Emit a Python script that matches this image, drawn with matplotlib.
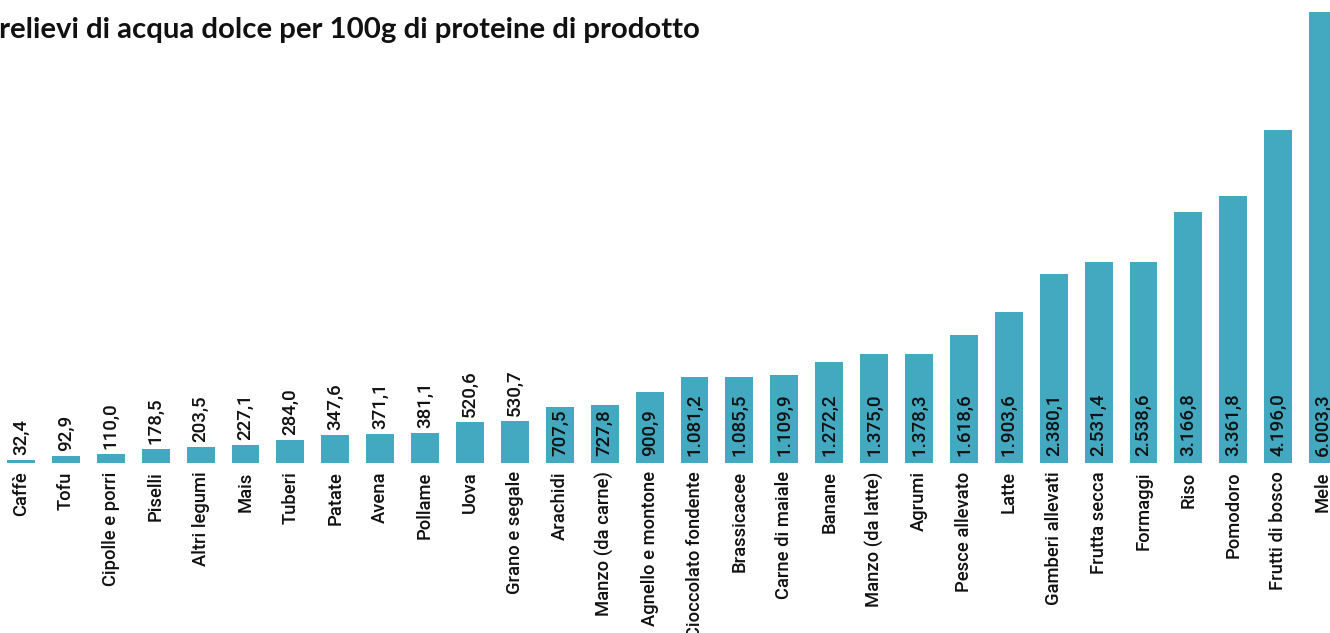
import matplotlib.pyplot as plt
import numpy as np

categories = ['Caffè', 'Tofu', 'Cipolle e porri', 'Piselli', 'Altri legumi', 'Mais',
              'Tuberi', 'Patate', 'Avena', 'Pollame', 'Uova', 'Grano e segale',
              'Arachidi', 'Manzo (da carne)', 'Agnello e montone', 'Cioccolato fondente',
              'Brassicacee', 'Carne di maiale', 'Banane', 'Manzo (da latte)', 'Agrumi',
              'Pesce allevato', 'Latte', 'Gamberi allevati', 'Frutta secca', 'Formaggi',
              'Riso', 'Pomodoro', 'Frutti di bosco', 'Mele']
values = [32.4, 92.9, 110.0, 178.5, 203.5, 227.1, 284.0, 347.6, 371.1, 381.1,
          520.6, 530.7, 707.5, 727.8, 900.9, 1081.2, 1085.5, 1109.9, 1272.2, 1375.0,
          1378.3, 1618.6, 1903.6, 2380.1, 2531.4, 2538.6, 3166.8, 3361.8, 4196.0, 6003.3]
title = 'Prelievi di acqua dolce per 100g di proteine di prodotto'

BAR_COLOR = '#42a9c1'
W, H = 1330, 633


def fmt_it(v):
    s = f'{v:,.1f}'
    return s.replace(',', 'X').replace('.', ',').replace('X', '.')


fig = plt.figure(figsize=(W / 100, H / 100), dpi=100)
base_y = 463
top_y = 12
ax = fig.add_axes([0, (H - base_y) / H, 1, (base_y - top_y) / H])

x = np.arange(len(values))
ax.bar(x, values, width=0.62, color=BAR_COLOR)

spacing = 44.9
ax.set_xlim(-21 / spacing, -21 / spacing + W / spacing)
ax.set_ylim(0, (base_y - top_y) / 0.0793)
for s in ax.spines.values():
    s.set_visible(False)
ax.set_yticks([])
ax.set_xticks(x)
ax.set_xticklabels(categories, rotation=90, fontsize=13.2, family='Roboto',
                   fontweight='medium', color='#111111')
ax.tick_params(axis='x', length=0, pad=6)

# value labels: inside the bar when it fits, above otherwise
px_per_unit = 0.0793
for xi, v in zip(x, values):
    txt = fmt_it(v)
    if v * px_per_unit > 52:
        ax.annotate(txt, (xi, 0), xytext=(0, 7), textcoords='offset pixels',
                    rotation=90, ha='center', va='bottom', fontsize=13.5,
                    family='Roboto', fontweight='medium', color='#111111',
                    annotation_clip=False)
    else:
        ax.annotate(txt, (xi, v), xytext=(0, 5), textcoords='offset pixels',
                    rotation=90, ha='center', va='bottom', fontsize=13.5,
                    family='Roboto', fontweight='medium', color='#111111',
                    annotation_clip=False)

fig.text(-19 / W, 1 - 38 / H, title, fontsize=21.2, fontweight='bold',
         family='Lato', color='#111111', ha='left', va='baseline')

fig.savefig('out.png', dpi=100)
